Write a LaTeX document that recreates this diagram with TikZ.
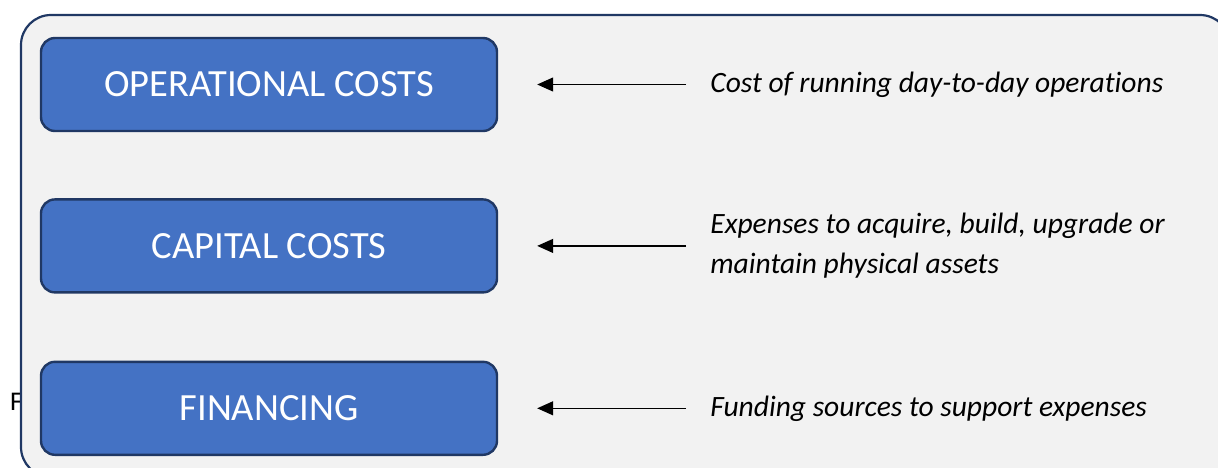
\documentclass[tikz,border=0pt]{standalone}
\usepackage{fontspec}
\setmainfont{Carlito}[Ligatures=CommonOff]
\usetikzlibrary{positioning, arrows.meta}

\definecolor{boxblue}{HTML}{4472C4}
\definecolor{navy}{HTML}{203864}
\definecolor{panelgray}{HTML}{F2F2F2}

\begin{document}
\begin{tikzpicture}[
    x=1pt, y=-1pt,
    box/.style={draw=navy, fill=boxblue, line width=2.4pt, rounded corners=14pt, minimum width=456pt, minimum height=93pt, align=center, text=white, font=\fontsize{38.5}{44}\selectfont},
    desc/.style={inner sep=0pt, align=left, font=\fontsize{29.5}{40}\selectfont\itshape},
    arrow/.style={-{Triangle[length=16pt, width=14pt]}, line width=1.3pt, shorten <=24pt, shorten >=39pt}
]

% Page and the letter peeking out on the left
\clip (0,0) rectangle (1218,467);
\fill[white] (0,0) rectangle (1218,467);
\node[anchor=west, inner sep=0pt, font=\fontsize{27}{32}\selectfont] (stray) at (10,402) {F};

% Panel
\draw[navy, fill=panelgray, line width=2.2pt, rounded corners=30pt] (21,15) rectangle (1230,477);

% Cost boxes
\node[box] (opcosts) at (269,84.5) {OPERATIONAL COSTS};
\node[box, below=66pt of opcosts] (capcosts) {CAPITAL COSTS};
\node[box, below=67pt of capcosts] (financing) {FINANCING};

% Descriptions
\node[desc, right=212pt of opcosts] (opdesc) {Cost of running day-to-day operations};
\node[desc, right=212pt of capcosts] (capdesc) {Expenses to acquire, build, upgrade or\\maintain physical assets};
\node[desc, right=212pt of financing] (findesc) {Funding sources to support expenses};

% Arrows
\draw[arrow] (opdesc) -- (opcosts);
\draw[arrow] (capdesc) -- (capcosts);
\draw[arrow] (findesc) -- (financing);

\end{tikzpicture}
\end{document}
